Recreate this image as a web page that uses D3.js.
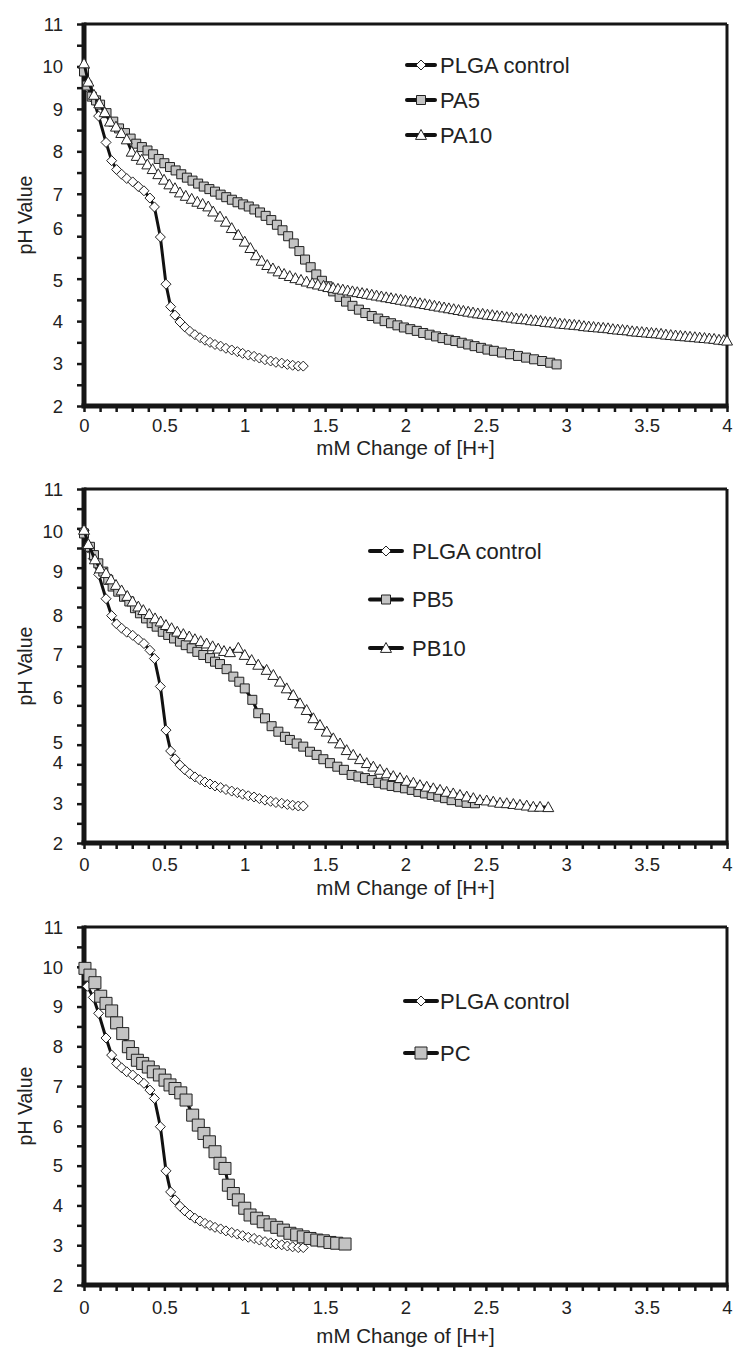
<!DOCTYPE html>
<html>
<head>
<meta charset="utf-8">
<script src="https://cdn.jsdelivr.net/npm/d3@7"></script>
<style>
  body { margin: 0; background: #fff; }
  svg text { font-family: "Liberation Sans", Arial, sans-serif; fill: #222; }
</style>
</head>
<body>
<svg id="chart" width="737" height="1349"></svg>
<script>
// ---- data: [mM change of H+, pH] ----
const plgaControl = [[0,9.95],[0.021,9.51],[0.058,9.23],[0.091,8.83],[0.137,8.21],[0.172,7.78],[0.203,7.57],[0.234,7.46],[0.266,7.36],[0.303,7.28],[0.338,7.17],[0.373,7.07],[0.41,6.9],[0.438,6.69],[0.475,5.98],[0.51,4.87],[0.539,4.34],[0.566,4.14],[0.597,3.98],[0.628,3.86],[0.659,3.76],[0.69,3.68],[0.722,3.61],[0.753,3.55],[0.784,3.5],[0.815,3.45],[0.85,3.41],[0.883,3.36],[0.919,3.32],[0.954,3.28],[0.987,3.24],[1.022,3.2],[1.058,3.17],[1.091,3.13],[1.126,3.09],[1.161,3.06],[1.194,3.03],[1.23,3.01],[1.265,2.98],[1.298,2.96],[1.333,2.94],[1.364,2.94]];

const pa5 = [[0,9.88],[0.02,9.55],[0.048,9.29],[0.075,9.2],[0.1,9.1],[0.14,8.9],[0.182,8.7],[0.218,8.54],[0.255,8.43],[0.29,8.3],[0.325,8.18],[0.36,8.1],[0.395,8.02],[0.43,7.93],[0.465,7.82],[0.5,7.72],[0.535,7.63],[0.57,7.55],[0.605,7.46],[0.64,7.38],[0.675,7.31],[0.71,7.24],[0.745,7.17],[0.78,7.11],[0.815,7.05],[0.85,6.98],[0.885,6.92],[0.92,6.86],[0.955,6.8],[0.99,6.75],[1.025,6.7],[1.06,6.63],[1.095,6.56],[1.13,6.48],[1.165,6.38],[1.2,6.27],[1.235,6.14],[1.27,6.0],[1.305,5.83],[1.34,5.65],[1.375,5.45],[1.41,5.27],[1.445,5.1],[1.48,4.95],[1.515,4.82],[1.55,4.7],[1.59,4.57],[1.63,4.46],[1.67,4.36],[1.71,4.27],[1.75,4.19],[1.79,4.12],[1.83,4.06],[1.87,4.0],[1.91,3.95],[1.95,3.9],[1.99,3.85],[2.03,3.81],[2.07,3.77],[2.11,3.72],[2.15,3.68],[2.19,3.64],[2.23,3.6],[2.27,3.56],[2.31,3.53],[2.35,3.49],[2.39,3.45],[2.43,3.41],[2.47,3.37],[2.51,3.33],[2.55,3.3],[2.6,3.26],[2.65,3.22],[2.7,3.18],[2.75,3.14],[2.8,3.1],[2.85,3.06],[2.9,3.02],[2.94,2.98]];

const pa10 = [[0,10.07],[0.027,9.64],[0.062,9.33],[0.095,9.13],[0.129,8.92],[0.162,8.7],[0.199,8.58],[0.232,8.43],[0.266,8.28],[0.297,7.99],[0.328,7.89],[0.359,7.8],[0.394,7.69],[0.427,7.58],[0.462,7.46],[0.498,7.33],[0.531,7.22],[0.566,7.13],[0.597,7.03],[0.633,6.95],[0.67,6.88],[0.705,6.81],[0.738,6.76],[0.773,6.7],[0.804,6.58],[0.846,6.46],[0.883,6.34],[0.919,6.19],[0.96,6.03],[1.0,5.87],[1.035,5.72],[1.07,5.55],[1.105,5.42],[1.14,5.32],[1.175,5.24],[1.21,5.17],[1.245,5.11],[1.28,5.06],[1.315,5.01],[1.35,4.97],[1.385,4.93],[1.42,4.89],[1.455,4.86],[1.49,4.83],[1.52,4.8],[1.55,4.78],[1.58,4.76],[1.61,4.74],[1.64,4.72],[1.67,4.7],[1.7,4.68],[1.73,4.66],[1.76,4.64],[1.79,4.62],[1.82,4.6],[1.85,4.58],[1.88,4.56],[1.91,4.54],[1.94,4.52],[1.97,4.5],[2.0,4.48],[2.03,4.46],[2.06,4.44],[2.09,4.42],[2.12,4.4],[2.15,4.38],[2.18,4.36],[2.21,4.34],[2.24,4.32],[2.27,4.3],[2.3,4.28],[2.33,4.26],[2.36,4.24],[2.39,4.22],[2.42,4.2],[2.45,4.18],[2.48,4.17],[2.51,4.15],[2.54,4.14],[2.57,4.12],[2.6,4.11],[2.63,4.09],[2.66,4.08],[2.69,4.06],[2.72,4.05],[2.75,4.04],[2.78,4.02],[2.81,4.01],[2.84,4.0],[2.87,3.98],[2.9,3.97],[2.93,3.96],[2.96,3.94],[2.99,3.93],[3.02,3.92],[3.05,3.91],[3.08,3.9],[3.11,3.88],[3.14,3.87],[3.17,3.86],[3.2,3.85],[3.23,3.84],[3.26,3.83],[3.29,3.81],[3.32,3.8],[3.35,3.79],[3.38,3.78],[3.41,3.76],[3.44,3.75],[3.47,3.74],[3.5,3.73],[3.53,3.72],[3.56,3.71],[3.59,3.7],[3.62,3.68],[3.65,3.67],[3.68,3.66],[3.71,3.65],[3.74,3.64],[3.77,3.63],[3.8,3.62],[3.83,3.61],[3.86,3.6],[3.89,3.59],[3.92,3.58],[3.95,3.56],[3.98,3.55],[4.0,3.54]];

const pb5 = [[0,9.87],[0.037,9.53],[0.062,9.32],[0.089,9.11],[0.12,8.9],[0.151,8.69],[0.178,8.52],[0.213,8.39],[0.249,8.26],[0.282,8.14],[0.317,7.97],[0.348,7.84],[0.386,7.71],[0.421,7.59],[0.452,7.5],[0.49,7.37],[0.524,7.29],[0.56,7.2],[0.597,7.12],[0.633,7.03],[0.67,6.95],[0.705,6.86],[0.742,6.78],[0.784,6.7],[0.815,6.61],[0.846,6.55],[0.887,6.42],[0.929,6.23],[0.966,6.1],[1.0,5.93],[1.047,5.64],[1.084,5.3],[1.126,5.17],[1.167,4.97],[1.209,4.83],[1.25,4.7],[1.281,4.62],[1.323,4.53],[1.364,4.45],[1.406,4.32],[1.447,4.24],[1.489,4.13],[1.53,4.03],[1.576,3.94],[1.617,3.86],[1.665,3.73],[1.707,3.69],[1.748,3.65],[1.79,3.6],[1.831,3.53],[1.872,3.49],[1.914,3.45],[1.955,3.42],[1.997,3.39],[2.039,3.35],[2.08,3.3],[2.121,3.26],[2.163,3.22],[2.204,3.18],[2.246,3.14],[2.287,3.09],[2.339,3.05],[2.38,3.02],[2.432,3.01]];

const pb10 = [[0,9.96],[0.027,9.6],[0.068,9.21],[0.1,8.98],[0.137,8.86],[0.168,8.7],[0.199,8.56],[0.234,8.42],[0.269,8.28],[0.302,8.14],[0.338,8.01],[0.369,7.92],[0.406,7.82],[0.442,7.71],[0.477,7.63],[0.51,7.54],[0.545,7.46],[0.58,7.37],[0.618,7.31],[0.655,7.25],[0.69,7.18],[0.726,7.13],[0.763,7.07],[0.8,7.0],[0.835,6.94],[0.871,6.88],[0.908,6.85],[0.96,6.96],[1.0,6.78],[1.043,6.65],[1.084,6.53],[1.136,6.4],[1.178,6.27],[1.219,6.1],[1.261,5.93],[1.302,5.76],[1.344,5.55],[1.385,5.38],[1.427,5.17],[1.468,5.0],[1.51,4.83],[1.551,4.66],[1.593,4.53],[1.634,4.36],[1.675,4.24],[1.717,4.13],[1.759,4.03],[1.8,3.94],[1.841,3.86],[1.883,3.77],[1.924,3.7],[1.966,3.65],[2.007,3.58],[2.049,3.53],[2.09,3.47],[2.132,3.43],[2.173,3.39],[2.215,3.35],[2.256,3.3],[2.297,3.26],[2.339,3.22],[2.381,3.18],[2.422,3.14],[2.463,3.09],[2.505,3.08],[2.546,3.05],[2.588,3.02],[2.63,3.01],[2.671,2.99],[2.712,2.97],[2.754,2.95],[2.795,2.92],[2.837,2.92],[2.888,2.91]];

const pc = [[0.006,9.96],[0.037,9.79],[0.068,9.6],[0.104,9.26],[0.137,9.08],[0.172,8.89],[0.203,8.59],[0.241,8.32],[0.276,7.99],[0.303,7.82],[0.332,7.65],[0.365,7.57],[0.4,7.48],[0.431,7.36],[0.469,7.28],[0.504,7.15],[0.535,7.03],[0.566,6.94],[0.602,6.83],[0.635,6.65],[0.676,6.27],[0.711,6.02],[0.746,5.81],[0.78,5.6],[0.815,5.35],[0.846,5.06],[0.877,4.93],[0.898,4.51],[0.929,4.3],[0.96,4.14],[1.0,3.93],[1.033,3.76],[1.074,3.68],[1.115,3.59],[1.157,3.51],[1.199,3.45],[1.24,3.38],[1.281,3.3],[1.323,3.26],[1.364,3.21],[1.406,3.17],[1.448,3.13],[1.489,3.11],[1.53,3.07],[1.572,3.05],[1.624,3.03]];

const legend1 = ["PLGA control", "PA5", "PA10"];
const legend2 = ["PLGA control", "PB5", "PB10"];
const legend3 = ["PLGA control", "PC"];

const xLabelTicks = [0, 0.5, 1, 1.5, 2, 2.5, 3, 3.5, 4];
const yLabelTicks = [2, 3, 4, 5, 6, 7, 8, 9, 10, 11];
const xTitle = "mM Change of [H+]";
const yTitle = "pH Value";

// ---- layout ----
const svg = d3.select("#chart");
const left = 84, right = 727;
const ink = "#161616";

const panels = [
  { top: 24, bottom: 406, series: [plgaControl, pa5, pa10], names: legend1,
    shapes: ["diamond", "square", "triangle"], size: [10, 9, 11],
    leg: { x0: 407, x1: 435, tx: 440, y0: 65, dy: 35 },
    xLabY: 432, titleY: 455, nudge: { 6: -8, 5: 2 } },
  { top: 489, bottom: 843, series: [plgaControl, pb5, pb10], names: legend2,
    shapes: ["diamond", "square", "triangle"], size: [10, 9, 11],
    leg: { x0: 370, x1: 402, tx: 412, y0: 551, dy: 48.5 },
    xLabY: 871, titleY: 895, nudge: { 10: 3, 9: 4, 8: 8, 7: 8, 6: 12, 5: 17, 4: -2 } },
  { top: 927, bottom: 1285, series: [plgaControl, pc], names: legend3,
    shapes: ["diamond", "square"], size: [10, 12],
    leg: { x0: 405, x1: 437, tx: 440, y0: 1001, dy: 52 },
    xLabY: 1314, titleY: 1343, nudge: {} }
];

function shapePath(shape, s) {
  const r = s / 2;
  if (shape === "diamond") return `M0,${-r}L${r},0L0,${r}L${-r},0Z`;
  if (shape === "square") return `M${-r},${-r}H${r}V${r}H${-r}Z`;
  return `M0,${-r}L${r},${r * 0.8}L${-r},${r * 0.8}Z`;
}
const fills = { diamond: "#fff", square: "#c3c3c3", triangle: "#fff" };

panels.forEach(p => {
  const x = d3.scaleLinear().domain([0, 4]).range([left, right]);
  const y = d3.scaleLinear().domain([2, 11]).range([p.bottom, p.top]);
  const g = svg.append("g");

  // minor ticks
  g.append("g").attr("transform", `translate(0,${p.bottom})`)
    .call(d3.axisBottom(x).tickValues(d3.range(0, 41).map(i => i / 10)).tickSize(6).tickFormat(""))
    .call(a => a.select(".domain").remove())
    .call(a => a.selectAll("line").attr("stroke", ink).attr("stroke-width", 2.5));
  g.append("g").attr("transform", `translate(${left},0)`)
    .call(d3.axisLeft(y).tickValues(d3.range(4, 23).map(i => i / 2)).tickSize(7).tickFormat(""))
    .call(a => a.select(".domain").remove())
    .call(a => a.selectAll("line").attr("stroke", ink).attr("stroke-width", 2.5));

  // tick labels
  g.append("g").attr("transform", `translate(0,${p.bottom})`)
    .call(d3.axisBottom(x).tickValues(xLabelTicks).tickSize(0).tickPadding(0).tickFormat(d3.format("~g")))
    .call(a => a.select(".domain").remove())
    .call(a => a.selectAll("text").attr("dy", null).attr("y", p.xLabY - p.bottom)
      .attr("font-size", 18.5).attr("fill", "#222").attr("font-family", null));
  g.append("g").attr("transform", `translate(${left},0)`)
    .call(d3.axisLeft(y).tickValues(yLabelTicks).tickSize(0).tickPadding(21).tickFormat(d3.format("d")))
    .call(a => a.select(".domain").remove())
    .call(a => a.selectAll("text").attr("font-size", 18.5).attr("fill", "#222").attr("font-family", null)
      .attr("dy", "0.34em").attr("y", d => p.nudge[d] || 0));

  // frame
  g.append("line").attr("x1", left).attr("x2", right).attr("y1", p.top).attr("y2", p.top)
    .attr("stroke", ink).attr("stroke-width", 3);
  g.append("line").attr("x1", right).attr("x2", right).attr("y1", p.top).attr("y2", p.bottom)
    .attr("stroke", ink).attr("stroke-width", 3);
  g.append("line").attr("x1", left - 2.5).attr("x2", right + 1.5).attr("y1", p.bottom).attr("y2", p.bottom)
    .attr("stroke", ink).attr("stroke-width", 5);
  g.append("line").attr("x1", left).attr("x2", left).attr("y1", p.top - 1.5).attr("y2", p.bottom)
    .attr("stroke", ink).attr("stroke-width", 5);

  // series: line then markers, in series order
  const line = d3.line().x(d => x(d[0])).y(d => y(d[1]));
  p.series.forEach((data, i) => {
    const sg = g.append("g");
    sg.append("path").datum(data).attr("d", line).attr("fill", "none")
      .attr("stroke", "#111").attr("stroke-width", 3).attr("stroke-linejoin", "round");
    sg.selectAll("path.m").data(data).join("path").attr("class", "m")
      .attr("transform", d => `translate(${x(d[0])},${y(d[1])})`)
      .attr("d", shapePath(p.shapes[i], p.size[i]))
      .attr("fill", fills[p.shapes[i]]).attr("stroke", "#222").attr("stroke-width", 1);
  });

  // legend
  p.names.forEach((name, i) => {
    const ly = p.leg.y0 + i * p.leg.dy;
    g.append("line").attr("x1", p.leg.x0).attr("x2", p.leg.x1).attr("y1", ly).attr("y2", ly)
      .attr("stroke", "#111").attr("stroke-width", 4).attr("stroke-linecap", "round");
    g.append("path").attr("transform", `translate(${(p.leg.x0 + p.leg.x1) / 2},${ly})`)
      .attr("d", shapePath(p.shapes[i], p.size[i]))
      .attr("fill", fills[p.shapes[i]]).attr("stroke", "#222").attr("stroke-width", 1);
    g.append("text").attr("x", p.leg.tx).attr("y", ly).attr("dy", "0.36em")
      .attr("font-size", 22).text(name);
  });

  // axis titles
  g.append("text").attr("x", (left + right) / 2).attr("y", p.titleY)
    .attr("text-anchor", "middle").attr("font-size", 20.5).text(xTitle);
  g.append("text").attr("transform", `translate(32,${(p.top + p.bottom) / 2}) rotate(-90)`)
    .attr("text-anchor", "middle").attr("font-size", 19.5).text(yTitle);
});
</script>
</body>
</html>
